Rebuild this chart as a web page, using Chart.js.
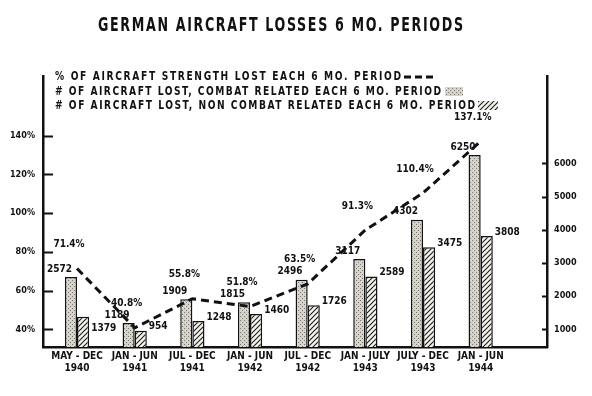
<!DOCTYPE html>
<html lang="en">
<head>
<meta charset="UTF-8">
<title>German Aircraft Losses 6 Mo. Periods</title>
<style>
  body { margin: 0; background: #ffffff; }
  #wrap { width: 592px; height: 396px; }
</style>
</head>
<body>
<div id="wrap"><canvas id="lossChart" width="592" height="396"></canvas></div>
<script src="https://cdn.jsdelivr.net/npm/chart.js"></script>
<script>
// data
const periods = [['MAY - DEC', '1940'], ['JAN - JUN', '1941'], ['JUL - DEC', '1941'], ['JAN - JUN', '1942'],
                 ['JUL - DEC', '1942'], ['JAN - JULY', '1943'], ['JULY - DEC', '1943'], ['JAN - JUN', '1944']];
const pctLost = [71.4, 40.8, 55.8, 51.8, 63.5, 91.3, 110.4, 137.1];
const combatLost = [2572, 1189, 1909, 1815, 2496, 3117, 4302, 6250];
const nonCombatLost = [1379, 954, 1248, 1460, 1726, 2589, 3475, 3808];
const pctTicks = [40, 60, 80, 100, 120, 140];
const countTicks = [1000, 2000, 3000, 4000, 5000, 6000];
const titleText = 'GERMAN AIRCRAFT LOSSES 6 MO. PERIODS';
const legendLines = [
  '% OF AIRCRAFT STRENGTH LOST EACH 6 MO. PERIOD',
  '# OF AIRCRAFT LOST, COMBAT RELATED EACH 6 MO. PERIOD',
  '# OF AIRCRAFT LOST, NON COMBAT RELATED EACH 6 MO. PERIOD'
];

const FONT = '"Liberation Sans Narrow", "DejaVu Sans Condensed", "Arial Narrow", sans-serif';
const INK = '#111111';

const canvas = document.getElementById('lossChart');
const ctx = canvas.getContext('2d');

// stippled fill for combat bars, diagonal hatch for non combat bars
function makePattern(kind) {
  const c = document.createElement('canvas');
  const g = c.getContext('2d');
  if (kind === 'dots') {
    c.width = 4; c.height = 4;
    g.fillStyle = '#d6d4ca'; g.fillRect(0, 0, 4, 4);
    g.fillStyle = '#77756d'; g.fillRect(0, 0, 1, 1); g.fillRect(2, 2, 1, 1);
  } else {
    const s = 5;
    c.width = s; c.height = s;
    g.fillStyle = '#f6f4ec'; g.fillRect(0, 0, s, s);
    g.strokeStyle = '#222'; g.lineWidth = 1.2;
    g.beginPath();
    g.moveTo(0, s); g.lineTo(s, 0);
    g.moveTo(-1, 1); g.lineTo(1, -1);
    g.moveTo(s - 1, s + 1); g.lineTo(s + 1, s - 1);
    g.stroke();
  }
  return ctx.createPattern(c, 'repeat');
}
const dots = makePattern('dots');
const hatch = makePattern('hatch');

// condensed glyphs spread out to a given width (the original is tracked-out condensed type)
function fitText(c, text, x, y, width, sx) {
  c.save();
  c.translate(x, y);
  c.scale(sx, 1);
  c.letterSpacing = '0px';
  const natural = c.measureText(text).width;
  c.letterSpacing = ((width / sx - natural) / (text.length - 1)) + 'px';
  c.fillText(text, 0, 0);
  c.restore();
}

function overlaps(a, b) {
  return a.x1 < b.x2 && b.x1 < a.x2 && a.y1 < b.y2 && b.y1 < a.y2;
}

const decorations = {
  id: 'decorations',
  afterDatasetsDraw(chart) {
    const c = chart.ctx;
    const boxes = [];
    c.save();
    c.fillStyle = INK;
    c.font = 'bold 10px ' + FONT;
    c.textBaseline = 'middle';
    // combat values above the bars
    c.textAlign = 'right';
    chart.getDatasetMeta(1).data.forEach((el, i) => {
      const t = String(combatLost[i]);
      const w = c.measureText(t).width;
      const x = el.x + 1, y = el.y - 8;
      c.fillText(t, x, y);
      boxes.push({ x1: x - w, x2: x, y1: y - 6, y2: y + 6 });
    });
    // non combat values next to the bars, pushed down if they hit another label
    c.textAlign = 'left';
    chart.getDatasetMeta(2).data.forEach((el, i) => {
      const t = String(nonCombatLost[i]);
      const w = c.measureText(t).width;
      const x = el.x + el.width / 2 + 2;
      let y = el.y - 4;
      while (boxes.some(b => overlaps(b, { x1: x, x2: x + w, y1: y - 6, y2: y + 6 }))) y += 4;
      c.fillText(t, x, y);
      boxes.push({ x1: x, x2: x + w, y1: y - 6, y2: y + 6 });
    });
    // percentages above the line
    c.textAlign = 'center';
    chart.getDatasetMeta(0).data.forEach((pt, i) => {
      c.fillText(pctLost[i].toFixed(1) + '%', pt.x - 8, pt.y - 24);
    });
    c.restore();
  },
  afterDraw(chart) {
    const c = chart.ctx;
    const a = chart.chartArea;
    c.save();
    // inward tick marks
    c.strokeStyle = INK;
    c.lineWidth = 2;
    const yp = chart.scales.yPct;
    yp.ticks.forEach(t => {
      const y = Math.round(yp.getPixelForValue(t.value)) + 0.5;
      c.beginPath(); c.moveTo(a.left, y); c.lineTo(a.left + 10, y); c.stroke();
    });
    const yc = chart.scales.yCount;
    yc.ticks.forEach(t => {
      const y = Math.round(yc.getPixelForValue(t.value)) + 0.5;
      c.beginPath(); c.moveTo(a.right, y); c.lineTo(a.right - 5, y); c.stroke();
    });

    // title
    c.fillStyle = INK;
    c.textAlign = 'left';
    c.textBaseline = 'middle';
    c.font = 'bold 19px ' + FONT;
    fitText(c, titleText, 98, 26, 365, 0.74);

    // legend, marker after each line
    c.font = 'bold 13px ' + FONT;
    const rows = [77, 92, 106];
    const ends = [401, 441, 475];
    legendLines.forEach((txt, i) => fitText(c, txt, 55, rows[i], ends[i] - 55, 0.78));

    c.lineWidth = 3;
    c.setLineDash([7, 4]);
    c.beginPath(); c.moveTo(404, rows[0]); c.lineTo(433, rows[0]); c.stroke();
    c.setLineDash([]);
    c.fillStyle = dots;
    c.fillRect(445, rows[1] - 5, 18, 9);
    c.fillStyle = hatch;
    c.fillRect(478, rows[2] - 5, 20, 9);
    c.restore();
  }
};

const tickFont = { family: FONT, size: 9, weight: 'bold' };

new Chart(canvas, {
  type: 'bar',
  data: {
    datasets: [
      {
        type: 'line',
        label: legendLines[0],
        data: pctLost.map((v, i) => ({ x: i, y: v })),
        yAxisID: 'yPct',
        borderColor: INK,
        borderWidth: 3,
        borderDash: [8, 5],
        pointRadius: 0,
        fill: false,
        tension: 0,
        order: 0
      },
      {
        label: legendLines[1],
        data: combatLost.map((v, i) => ({ x: i, y: v })),
        yAxisID: 'yCount',
        backgroundColor: dots,
        borderColor: INK,
        borderWidth: 1.5,
        categoryPercentage: 0.42,
        barPercentage: 1,
        order: 1
      },
      {
        label: legendLines[2],
        data: nonCombatLost.map((v, i) => ({ x: i, y: v })),
        yAxisID: 'yCount',
        backgroundColor: hatch,
        borderColor: INK,
        borderWidth: 1.5,
        categoryPercentage: 0.42,
        barPercentage: 1,
        order: 1
      }
    ]
  },
  options: {
    responsive: false,
    animation: false,
    devicePixelRatio: 1,
    layout: { padding: { top: 76, left: 0, right: 0, bottom: 0 } },
    plugins: {
      legend: { display: false },
      title: { display: false },
      tooltip: { enabled: false }
    },
    scales: {
      x: {
        type: 'linear',
        min: -0.59,
        max: 8.15,
        offset: false,
        grid: { display: false, drawTicks: false },
        border: { color: INK, width: 2.5 },
        ticks: {
          stepSize: 1,
          includeBounds: false,
          autoSkip: false,
          maxRotation: 0,
          padding: 4,
          color: INK,
          font: { family: FONT, size: 10, weight: 'bold', lineHeight: 1.15 },
          callback: v => periods[v] || ''
        },
        afterFit: s => { s.height = 49; }
      },
      yPct: {
        type: 'linear',
        position: 'left',
        min: 30.9,
        max: 170.8,
        grid: { drawOnChartArea: false, drawTicks: false },
        border: { color: INK, width: 2.5 },
        ticks: { padding: 8, color: INK, font: tickFont, callback: v => v + '%' },
        afterBuildTicks: s => { s.ticks = pctTicks.map(v => ({ value: v })); },
        afterFit: s => { s.width = 43; }
      },
      yCount: {
        type: 'linear',
        position: 'right',
        min: 467,
        max: 8630,
        grid: { drawOnChartArea: false, drawTicks: false },
        border: { color: INK, width: 2.5 },
        ticks: { padding: 7, color: INK, font: tickFont, callback: v => String(v) },
        afterBuildTicks: s => { s.ticks = countTicks.map(v => ({ value: v })); },
        afterFit: s => { s.width = 45; }
      }
    }
  },
  plugins: [decorations]
});
</script>
</body>
</html>
